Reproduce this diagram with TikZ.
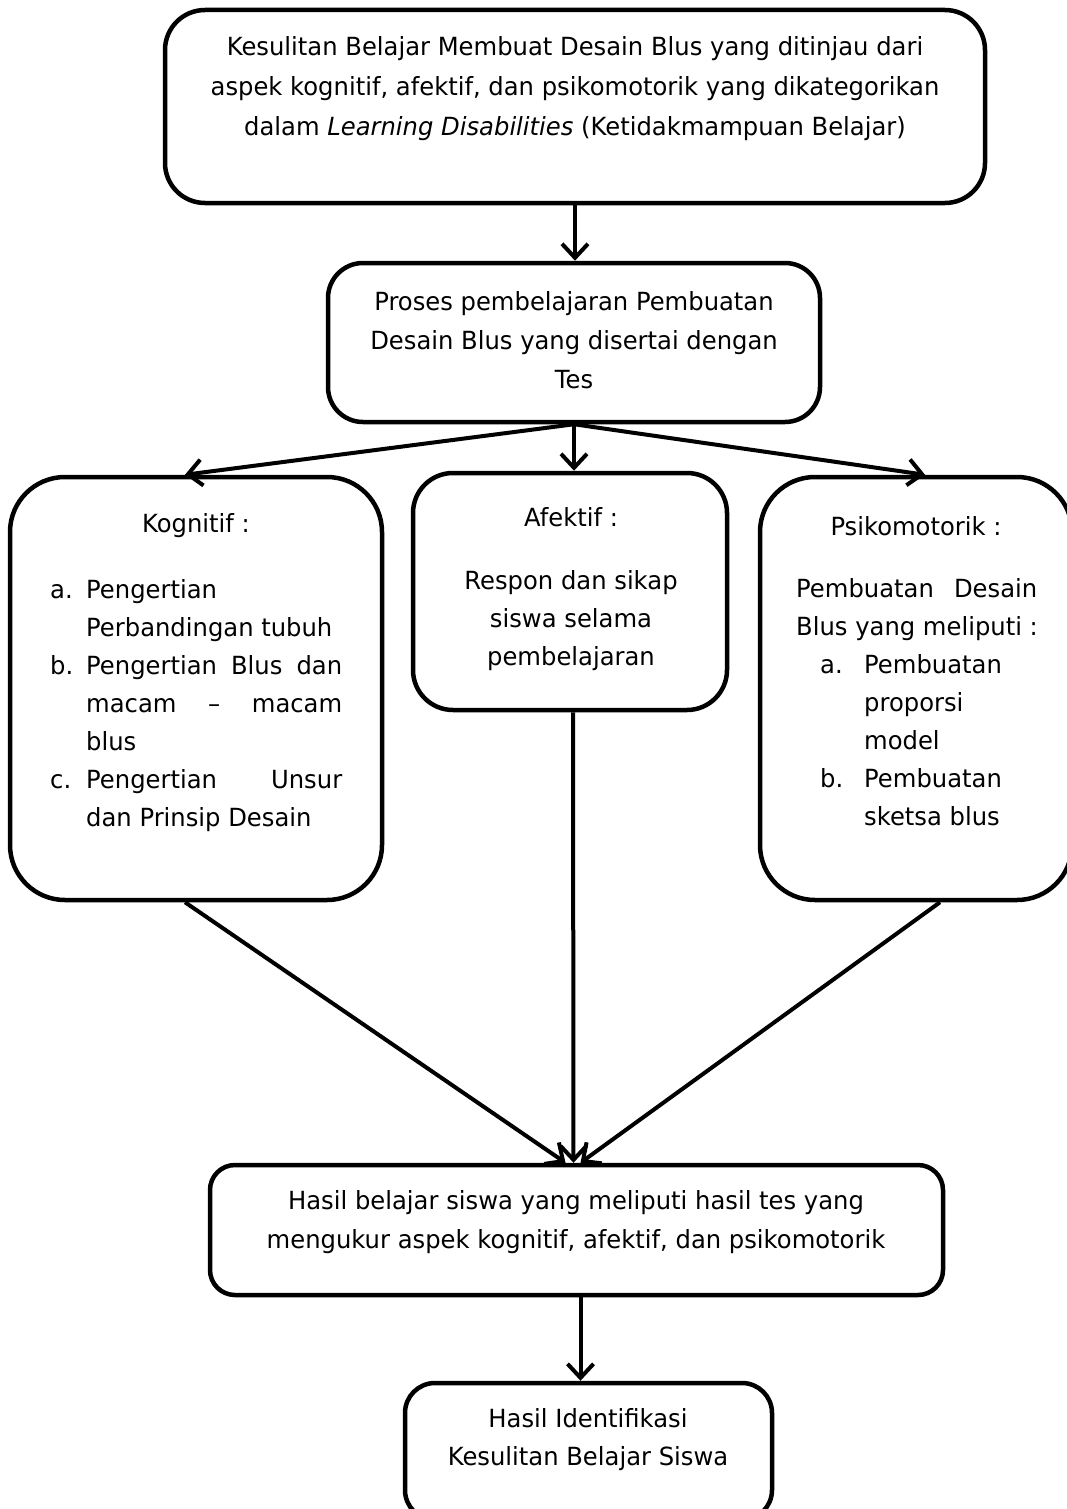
\documentclass[tikz,border=0pt]{standalone}
\usepackage{fontspec}
\setmainfont[FakeStretch=0.97]{DejaVu Sans}
\usetikzlibrary{arrows.meta, positioning}

\begin{document}
\begin{tikzpicture}[x=1pt, y=-1pt,
    box/.style={draw, line width=4.5pt, inner sep=0pt, rounded corners=#1},
    box/.default=40pt,
    txt/.style={inner sep=0pt, font=\fontsize{25}{39}\selectfont, align=center},
    lst/.style={inner sep=0pt, font=\fontsize{25}{38}\selectfont, align=left, anchor=north west},
    arr/.style={line width=4pt, -{Straight Barb[length=14pt, width=26pt, line width=4pt]}}]

    \useasboundingbox (0,0) rectangle (1066,1509);

    % boxes
    \node[box=40pt, minimum width=820pt, minimum height=193pt] (kesulitan) at (575,106.5) {};
    \node[box=35pt, minimum width=492pt, minimum height=159pt] (proses) at (574,342.5) {};
    \node[box=55pt, minimum width=372pt, minimum height=423pt] (kognitif) at (196,688.5) {};
    \node[box=40pt, minimum width=314pt, minimum height=237pt] (afektif) at (570,591.5) {};
    \node[box=55pt, minimum width=312pt, minimum height=423pt] (psiko) at (916,688.5) {};
    \node[box=25pt, minimum width=733pt, minimum height=130pt] (hasil) at (576.5,1230) {};
    \node[box=30pt, minimum width=367pt, minimum height=137pt] (identif) at (588.5,1451.5) {};

    % texts
    \node[txt, font=\fontsize{25}{40}\selectfont] (tkesulitan) at (575,89) {Kesulitan Belajar Membuat Desain Blus yang ditinjau dari\\
        aspek kognitif, afektif, dan psikomotorik yang dikategorikan\\
        dalam \textit{Learning Disabilities} (Ketidakmampuan Belajar)};
    \node[txt] (tproses) at (574,340) {Proses pembelajaran Pembuatan\\Desain Blus yang disertai dengan\\Tes};

    \node[txt] (hkognitif) at (196,526) {Kognitif :};
    \node[lst] (lkognitif) at (50,579) {%
        \makebox[36pt][l]{a.}Pengertian\\
        \hspace*{36pt}Perbandingan tubuh\\
        \makebox[36pt][l]{b.}\makebox[256pt][s]{Pengertian Blus dan}\\
        \hspace*{36pt}\makebox[256pt][s]{macam \ – \ macam}\\
        \hspace*{36pt}blus\\
        \makebox[36pt][l]{c.}\makebox[256pt][s]{Pengertian Unsur}\\
        \hspace*{36pt}dan Prinsip Desain};

    \node[txt] (hafektif) at (571,517) {Afektif :};
    \node[txt, font=\fontsize{25}{38}\selectfont] (lafektif) at (571,621) {Respon dan sikap\\siswa selama\\pembelajaran};

    \node[txt] (hpsiko) at (916,526) {Psikomotorik :};
    \node[lst] (lpsiko) at (796,578) {%
        \makebox[241pt][s]{Pembuatan Desain}\\
        Blus yang meliputi :\\
        \hspace*{24pt}\makebox[44pt][l]{a.}Pembuatan\\
        \hspace*{68pt}proporsi\\
        \hspace*{68pt}model\\
        \hspace*{24pt}\makebox[44pt][l]{b.}Pembuatan\\
        \hspace*{68pt}sketsa blus};

    \node[txt] (thasil) at (576,1222) {Hasil belajar siswa yang meliputi hasil tes yang\\
        mengukur aspek kognitif, afektif, dan psikomotorik};
    \node[txt, font=\fontsize{25}{38}\selectfont] (tidentif) at (588,1440) {Hasil Identifikasi\\Kesulitan Belajar Siswa};

    % arrows
    \draw[arr] (kesulitan.south) -- (kesulitan.south |- proses.north);
    \draw[arr] (proses.south) -- ([xshift=-11pt]kognitif.north);
    \draw[arr] (proses.south) -- (proses.south |- afektif.north);
    \draw[arr] (proses.south) -- ([xshift=9pt]psiko.north);
    \draw[arr] ([xshift=-11pt]kognitif.south) -- ([xshift=-11pt]hasil.north);
    \draw[arr] ([xshift=3pt]afektif.south) -- ([xshift=-3pt]hasil.north);
    \draw[arr] ([xshift=24pt]psiko.south) -- ([xshift=4pt]hasil.north);
    \draw[arr] ([xshift=4pt]hasil.south) -- ([xshift=4pt]hasil.south |- identif.north);
\end{tikzpicture}
\end{document}
